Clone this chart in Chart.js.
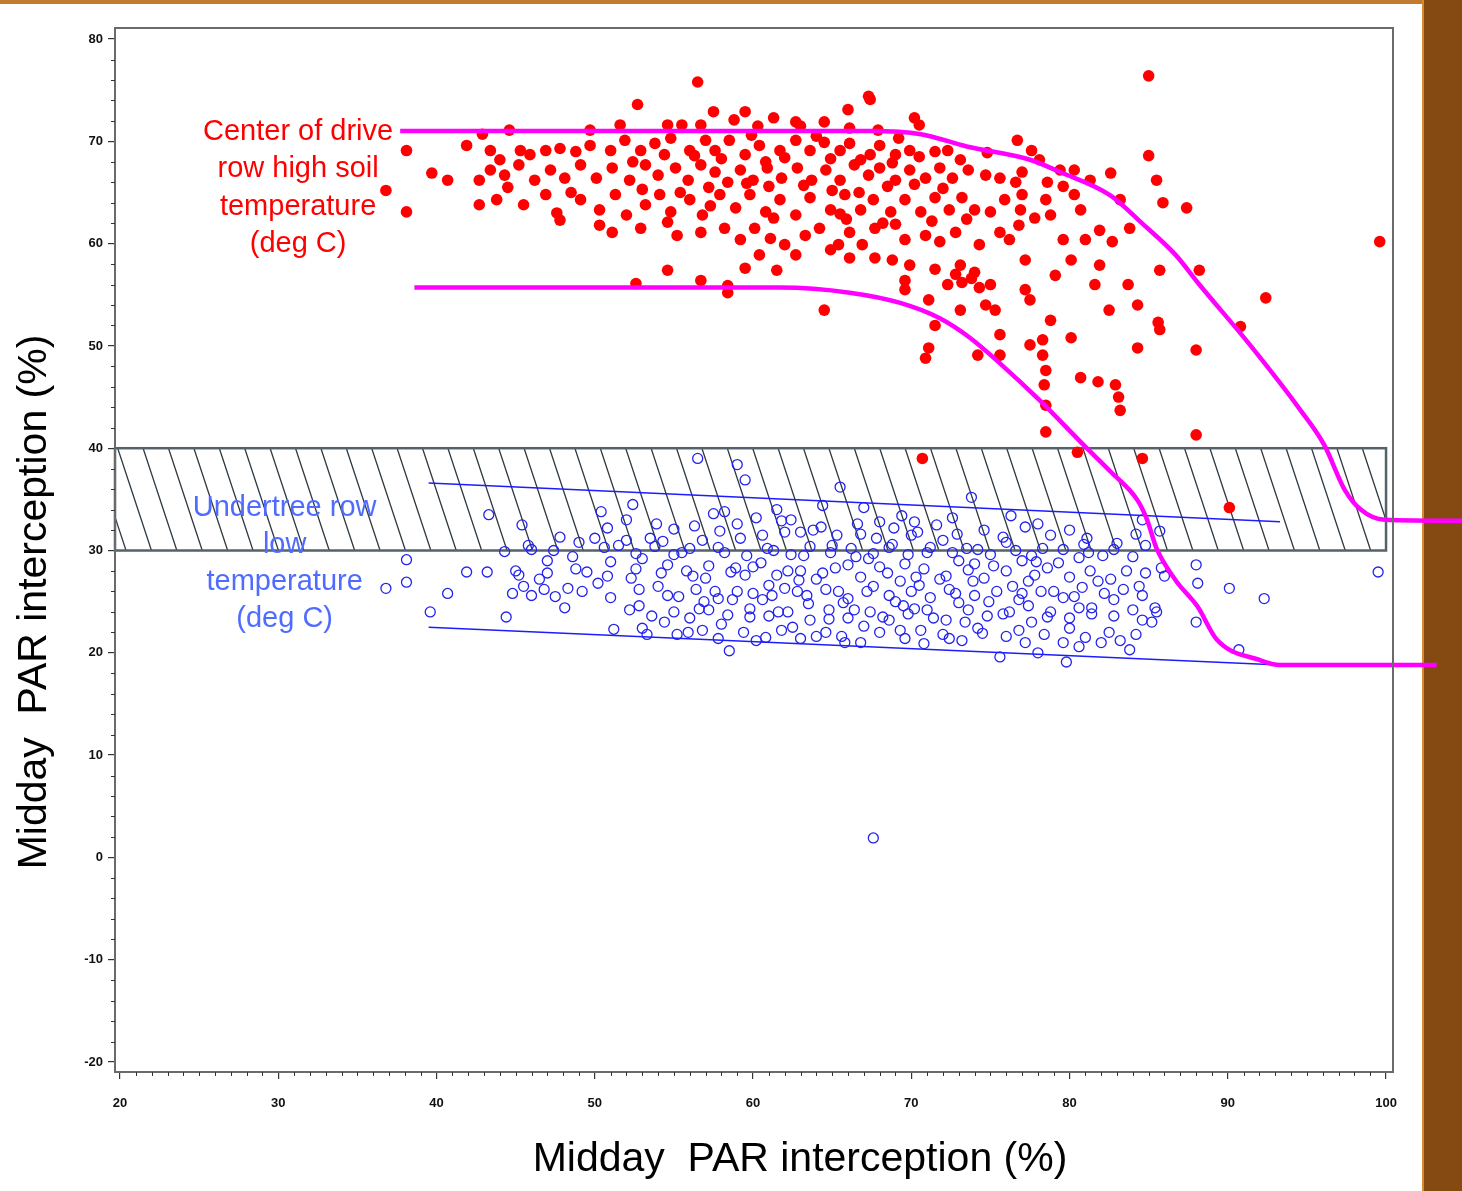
<!DOCTYPE html>
<html>
<head>
<meta charset="utf-8">
<script src="https://cdn.jsdelivr.net/npm/chart.js@4.4.0/dist/chart.umd.min.js"></script>
<style>
  body { margin: 0; background: #fff; }
  #wrap { position: relative; width: 1462px; height: 1191px; overflow: hidden; }
  #topline { position: absolute; left: 0; top: 0; width: 1422px; height: 4px; background: #c27a2e; }
  #brown { position: absolute; left: 1422px; top: 0; width: 40px; height: 1191px; background: #844a12; border-left: 2px solid #d88a30; }
  #chart { position: absolute; left: 0; top: 0; }
</style>
</head>
<body>
<div id="wrap">
  <div id="topline"></div>
  <div id="brown"></div>
  <canvas id="chart" width="1462" height="1191"></canvas>
</div>
<script>
(function() {
  const xTicks = [20, 30, 40, 50, 60, 70, 80, 90, 100];
  const yTicks = [-20, -10, 0, 10, 20, 30, 40, 50, 60, 70, 80];

  // hatched band (x from axis start to 100, y 30..40)
  const bandX = [19.68, 100];
  const bandY = [30, 40];

  // center of drive row, high soil temperature (filled red dots)
  const redPoints = [
    [52.7,73.6],[56.5,75.8],[57.5,72.9],[59.5,72.9],[61.3,72.3],[62.7,71.9],[64.5,71.9],[66.0,73.1],[67.3,74.4],[67.4,74.1],
    [70.2,72.3],[70.5,71.6],[60.3,71.5],[58.8,72.1],[63.0,71.5],[42.9,70.7],[44.6,71.1],[49.7,71.1],[51.6,71.6],[54.6,71.6],
    [55.5,71.6],[56.7,71.6],[66.1,71.3],[67.9,71.1],[85.0,76.4],
    [38.1,69.1],[41.9,69.6],[43.4,69.1],[44.0,68.2],[45.3,69.1],[45.9,68.7],[46.9,69.1],[47.8,69.3],[48.8,69.0],[49.7,69.6],
    [51.0,69.1],[51.9,70.1],[52.9,69.1],[53.8,69.8],[54.4,68.7],[56.0,69.1],[57.0,70.1],[57.6,69.1],[58.5,70.1],[59.5,68.7],
    [60.4,69.6],[61.7,69.1],[62.7,70.1],[63.6,69.1],[64.5,69.9],[65.5,69.1],[66.1,69.8],[67.4,68.7],[68.0,69.6],[69.0,68.7],
    [69.9,69.1],[71.5,69.0],[72.3,69.1],[73.1,68.2],[76.7,70.1],[77.6,69.1],[78.1,68.2],[79.4,67.2],[85.0,68.6],
    [39.7,66.9],[40.7,66.2],[36.8,65.2],[42.7,66.2],[43.4,67.2],[44.3,66.7],[45.2,67.7],[46.2,66.2],[47.2,67.2],[48.1,66.4],
    [49.1,67.7],[50.1,66.4],[51.1,67.4],[52.2,66.2],[53.2,67.7],[54.0,66.7],[55.1,67.4],[55.9,66.2],[56.7,67.7],[57.6,67.0],
    [58.4,66.0],[59.2,67.2],[60.0,66.2],[60.9,67.4],[61.8,66.4],[62.8,67.4],[63.7,66.2],[64.6,67.2],[65.5,66.2],[66.4,67.7],
    [67.3,66.7],[68.0,67.4],[69.0,66.2],[69.9,67.2],[70.9,66.4],[71.8,67.4],[72.6,66.4],[73.6,67.2],[74.7,66.7],[75.6,66.4],
    [76.6,66.0],[77.0,67.0],[78.6,66.0],[80.3,67.2],[81.3,66.2],[82.6,66.9],[85.5,66.2],
    [38.1,63.1],[42.7,63.8],[43.8,64.3],[45.5,63.8],[46.9,64.8],[47.6,63.0],[49.1,64.3],[50.3,63.3],[51.3,64.8],[52.0,62.8],
    [53.2,63.8],[54.1,64.8],[54.8,63.1],[56.0,64.3],[56.8,62.8],[57.9,64.8],[58.9,63.5],[59.8,64.8],[60.8,63.1],[61.7,64.3],
    [62.7,62.8],[63.6,64.5],[64.9,63.3],[65.8,64.8],[66.8,63.3],[67.6,64.3],[68.7,63.1],[69.6,64.3],[70.6,63.1],[71.5,64.5],
    [72.4,63.3],[73.2,64.5],[74.0,63.3],[75.0,63.1],[75.9,64.3],[76.9,63.3],[78.5,64.3],[80.3,64.8],[80.7,63.3],[83.2,64.3],
    [85.9,64.0],[87.4,63.5],[78.8,62.8],[77.8,62.5],[44.5,65.5],[48.5,65.0],[53.0,65.3],[57.2,65.5],[61.0,65.6],[65.0,65.2],
    [68.5,65.6],[72.0,65.4],[58.0,68.3],[62.0,68.4],[66.8,68.2],[70.5,68.5],[74.8,68.9],[77.0,64.8],[79.6,65.6],
    [55.4,65.0],[59.6,65.9],[63.2,65.7],[66.7,65.0],[70.2,65.8],[52.4,68.0],[56.3,68.6],[60.8,68.0],[64.9,68.3],[68.8,67.9],
    [54.8,70.3],[59.9,70.6],[64.0,70.5],[69.2,70.3],[57.3,63.7],[61.3,62.5],[65.5,62.9],[69.0,61.9],
    [47.8,62.3],[50.3,61.8],[51.1,61.1],[52.9,61.5],[54.6,62.1],[55.2,60.8],[56.7,61.1],[58.2,61.5],[59.2,60.4],[60.1,61.5],
    [61.1,60.5],[62.0,59.9],[63.3,60.8],[64.2,61.5],[65.4,59.9],[66.1,61.1],[66.9,59.9],[67.7,61.5],[69.6,60.4],[70.9,60.8],
    [71.8,60.2],[72.8,61.1],[74.3,59.9],[75.6,61.1],[76.2,60.4],[79.6,60.4],[81.0,60.4],[81.9,61.3],[82.7,60.2],[83.8,61.5],
    [99.6,60.2],[65.9,62.4],[68.2,62.0],[71.3,62.2],[73.5,62.4],[76.8,61.8],
    [52.6,56.1],[54.6,57.4],[56.7,56.4],[58.4,55.2],[59.5,57.6],[61.5,57.4],[60.4,58.9],[62.7,58.9],[64.9,59.4],[66.1,58.6],
    [67.7,58.6],[68.8,58.4],[69.6,56.4],[69.9,57.9],[71.5,57.5],[72.3,56.0],[73.1,57.9],[73.2,56.2],[74.0,57.2],[74.3,55.7],
    [75.0,56.0],[77.2,58.4],[77.2,55.5],[79.1,56.9],[80.1,58.4],[81.6,56.0],[81.9,57.9],[83.7,56.0],[85.7,57.4],[88.2,57.4],
    [58.4,55.9],[72.8,57.0],[73.8,56.6],
    [64.5,53.5],[69.6,55.5],[71.1,54.5],[71.5,52.0],[73.1,53.5],[74.7,54.0],[75.3,53.5],[77.5,54.5],[78.8,52.5],[82.5,53.5],
    [84.3,54.0],[85.6,52.3],[92.4,54.7],[90.8,51.9],
    [70.9,48.8],[71.1,49.8],[74.2,49.1],[75.6,51.1],[75.6,49.1],[77.5,50.1],[78.3,50.6],[78.3,49.1],[80.1,50.8],[84.3,49.8],
    [85.7,51.6],[88.0,49.6],[78.5,47.6],[78.4,46.2],[80.7,46.9],[81.8,46.5],[82.9,46.2],[83.1,45.0],
    [78.5,44.2],[83.2,43.7],[78.5,41.6],[88.0,41.3],[80.5,39.6],[84.6,39.0],[70.7,39.0],[90.1,34.2]
  ];

  // undertree row, low temperature (open blue circles)
  const bluePoints = [
    [36.8,26.3],[38.1,29.1],[38.1,26.9],[39.6,24.0],[40.7,25.8],[41.9,27.9],[43.2,27.9],[43.3,33.5],[44.3,29.9],[44.4,23.5],
    [45.4,32.5],[45.0,28.0],[45.5,26.5],[46.0,25.6],[46.5,27.2],[46.0,30.1],[47.0,29.0],[47.8,31.3],[48.1,24.4],[48.3,26.3],
    [49.0,30.8],[49.5,27.9],[50.2,26.8],[50.0,31.2],[50.8,32.2],[51.0,28.9],[51.2,22.3],[51.5,30.5],[52.0,33.0],[52.0,31.0],
    [52.3,27.3],[52.8,24.6],[53.0,29.2],[53.3,21.8],[53.5,31.2],[54.0,26.5],[54.4,23.0],[54.6,28.6],[55.0,32.1],[55.3,25.5],
    [55.5,29.8],[55.9,22.0],[56.2,27.5],[56.5,39.0],[56.6,24.3],[56.8,31.0],[57.2,28.5],[57.5,33.6],[57.6,26.0],[58.0,22.8],
    [58.2,29.8],[58.5,20.2],[58.7,25.2],[59.0,38.4],[59.2,31.2],[59.5,36.9],[59.5,27.6],[59.8,23.5],[60.0,25.8],[60.2,33.2],
    [60.5,28.8],[60.8,21.5],[61.0,26.6],[61.3,30.0],[61.6,24.0],[62.0,31.8],[62.2,28.0],[62.5,22.5],[62.8,26.0],[63.2,29.5],
    [63.5,24.8],[63.8,32.0],[64.0,21.6],[64.4,27.8],[64.8,23.3],[65.0,30.5],[65.4,26.0],[65.5,36.2],[65.8,21.0],[66.0,28.6],
    [66.4,24.2],[66.8,31.6],[67.0,22.6],[67.3,29.2],[67.6,1.9],[67.6,26.5],[68.0,32.8],[68.2,23.5],[68.5,27.8],[68.8,30.6],
    [69.0,25.0],[69.3,22.2],[69.6,28.7],[70.0,31.5],[70.2,24.3],[70.5,26.6],[70.8,20.9],[71.0,29.8],[71.4,23.4],[71.8,27.2],
    [72.0,31.0],[72.4,21.4],[72.8,25.8],[73.0,29.0],[73.4,23.0],[73.8,35.2],[73.9,27.0],[74.2,30.1],[74.5,21.9],[74.9,25.0],
    [75.2,28.5],[75.6,19.6],[75.8,23.8],[76.0,30.8],[76.4,26.5],[76.8,22.2],[77.0,29.0],[77.4,24.6],[77.8,27.6],[78.0,20.0],
    [78.3,30.2],[78.6,23.5],[79.0,26.0],[79.3,28.8],[79.8,19.1],[80.0,22.4],[80.3,25.5],[80.6,29.3],[81.0,21.5],[81.4,23.8],
    [81.8,27.0],[82.1,29.5],[82.5,22.0],[82.8,25.2],[83.2,21.2],[83.6,28.0],[83.8,20.3],[84.0,24.2],[84.4,26.5],[84.8,30.5],
    [85.2,23.0],[85.5,24.0],[85.7,31.9],[86.0,27.5],[88.0,28.6],[88.1,26.8],[88.0,23.0],[90.1,26.3],[90.7,20.3],[92.3,25.3],
    [99.5,27.9],
    [56.3,32.4],[57.9,31.9],[59.0,32.6],[60.6,31.5],[61.8,32.9],[63.0,31.8],[64.3,32.3],[65.3,31.5],[66.6,32.6],[67.8,31.2],
    [68.9,32.2],[70.4,31.8],[71.6,32.5],[72.9,31.6],[74.6,32.0],[75.8,31.3],[77.2,32.3],[78.8,31.5],[80.0,32.0],[81.1,31.2],
    [83.0,30.7],[84.2,31.6],
    [45.8,30.5],[47.4,30.0],[48.6,29.4],[50.6,30.3],[52.6,29.7],[53.8,30.4],[55.0,29.6],[56.0,30.2],[57.8,30.3],[59.6,29.5],
    [60.9,30.2],[62.4,29.6],[63.6,30.4],[64.9,29.8],[66.2,30.2],[67.6,29.7],[68.6,30.3],[69.8,29.6],[71.2,30.3],[72.6,29.8],
    [73.5,30.2],[75.0,29.6],[76.6,30.0],[77.6,29.5],[79.6,30.1],[81.2,29.8],[82.8,30.1],[84.0,29.4],
    [45.2,27.6],[47.0,27.8],[48.8,28.2],[50.8,27.5],[52.6,28.2],[54.2,27.8],[55.8,28.0],[57.0,27.3],[58.6,27.9],[60.0,28.4],
    [61.5,27.6],[63.0,28.0],[64.0,27.2],[65.2,28.3],[66.8,27.4],[68.0,28.4],[69.3,27.0],[70.8,28.2],[72.2,27.5],[73.6,28.1],
    [74.6,27.3],[76.0,28.0],[77.4,27.0],[78.6,28.3],[80.0,27.4],[81.3,28.0],[82.6,27.2],[84.8,27.8],[85.8,28.3],
    [44.8,25.8],[46.8,26.2],[47.5,25.5],[49.2,26.0],[51.0,25.4],[52.8,26.2],[54.6,25.6],[56.4,26.2],[57.8,25.3],[59.0,26.0],
    [60.6,25.2],[62.0,26.3],[63.4,25.6],[64.6,26.2],[66.0,25.3],[67.2,26.0],[68.6,25.6],[70.0,26.0],[71.2,25.4],[72.4,26.2],
    [74.0,25.6],[75.4,26.0],[76.8,25.2],[78.2,26.0],[79.6,25.4],[80.8,26.4],[82.2,25.8],[83.4,26.2],[84.6,25.6],[85.4,24.4],
    [52.2,24.2],[53.6,23.6],[55.0,24.0],[56.0,23.4],[57.2,24.2],[58.4,23.7],[59.8,24.3],[61.0,23.6],[62.2,24.0],[63.6,23.2],
    [64.8,24.2],[66.0,23.4],[67.4,24.0],[68.6,23.2],[69.8,23.8],[71.0,24.2],[72.2,23.2],[73.6,24.2],[74.8,23.6],[76.2,24.0],
    [77.6,23.0],[78.8,24.0],[80.0,23.4],[81.4,24.4],[82.8,23.6],[84.6,23.2],
    [53.0,22.4],[55.2,21.8],[56.8,22.2],[57.8,21.4],[59.4,22.0],[60.2,21.2],[61.8,22.2],[63.0,21.4],[64.6,22.0],[65.6,21.6],
    [66.8,21.0],[68.0,22.0],[69.6,21.4],[70.6,22.2],[72.0,21.8],[73.2,21.2],[74.2,22.4],[76.0,21.6],[77.2,21.0],[78.4,21.8],
    [79.6,21.0],[80.6,20.6],[82.0,21.0],[84.2,21.8],
    [50.4,33.8],[52.4,34.5],[53.9,32.6],[58.2,33.8],[61.5,34.0],[62.4,33.0],[64.4,34.4],[67.0,34.2],[69.4,33.4],[70.2,32.8],
    [72.6,33.2],[76.3,33.4],[78.0,32.6],[84.6,33.0],
    [54.3,30.9],[58.9,28.3],[62.9,27.1],[66.5,29.4],[70.3,27.4],[74.0,28.7],[77.9,28.9],[80.9,30.6],[56.9,25.0],[61.2,25.6],
    [65.7,24.9],[69.5,24.6],[73.0,24.9],[77.0,25.8],[80.6,24.4]
  ];

  // magenta envelope curves
  const upperCurveX = [37.7, 50, 60, 67.4, 70.6, 73.5, 77.5, 79.4, 82.6, 84.5, 86.7, 88.2, 91.4, 94.6, 96.1, 97.4, 98.4, 99.9, 104.8];
  const upperCurveY = [71.0, 71.0, 71.0, 71.0, 70.7, 69.5, 68.2, 67.0, 64.7, 62.1, 58.9, 56.0, 50.1, 43.7, 40.3, 35.9, 34.0, 33.0, 32.9];
  const lowerCurveX = [38.6, 50, 61.7, 66.1, 69.3, 71.8, 73.7, 75.6, 78.1, 80.9, 82.6, 84.3, 84.9, 85.5, 86.7, 88.1, 89.3, 92.0, 93.3, 103.2];
  const lowerCurveY = [55.7, 55.7, 55.7, 55.2, 54.2, 52.7, 50.8, 48.3, 44.7, 40.3, 37.7, 34.9, 33.0, 30.2, 27.1, 24.5, 21.3, 19.3, 18.8, 18.8];

  // thin blue bounding lines
  const blueUpperX = [39.5, 93.3];
  const blueUpperY = [36.6, 32.8];
  const blueLowerX = [39.5, 93.3];
  const blueLowerY = [22.5, 18.8];

  const redLabel = ['Center of drive', 'row high soil', 'temperature', '(deg C)'];
  const blueLabel = ['Undertree row', 'low', 'temperature', '(deg C)'];
  const axisTitle = 'Midday  PAR interception (%)';

  const toXY = (xs, ys) => xs.map((v, i) => ({ x: v, y: ys[i] }));
  const fontFam = '"Liberation Sans", Arial, sans-serif';

  const decor = {
    id: 'decor',
    beforeDatasetsDraw(chart) {
      const { ctx, scales: { x, y } } = chart;
      const l = x.getPixelForValue(bandX[0]), r = x.getPixelForValue(bandX[1]);
      const t = y.getPixelForValue(bandY[1]), b = y.getPixelForValue(bandY[0]);
      ctx.save();
      ctx.beginPath();
      ctx.rect(l, t, r - l, b - t);
      ctx.clip();
      ctx.strokeStyle = '#2f3a42';
      ctx.lineWidth = 1.3;
      ctx.beginPath();
      const dx = (b - t) * 0.33;
      for (let px = 1006.7 - 25.4 * 42; px < r + 5; px += 25.4) {
        ctx.moveTo(px, t);
        ctx.lineTo(px + dx, b);
      }
      ctx.stroke();
      ctx.restore();
      ctx.save();
      ctx.strokeStyle = '#56626a';
      ctx.lineWidth = 2.5;
      ctx.strokeRect(l, t, r - l, b - t);
      ctx.restore();
    },
    afterDraw(chart) {
      const { ctx, chartArea: a, scales: { x, y } } = chart;
      ctx.save();
      // plot frame
      ctx.strokeStyle = '#6a6a6a';
      ctx.lineWidth = 2;
      ctx.strokeRect(a.left, a.top, a.right - a.left, a.bottom - a.top);
      // minor ticks
      ctx.strokeStyle = '#333';
      ctx.lineWidth = 1;
      ctx.beginPath();
      for (let v = xTicks[0]; v <= xTicks[xTicks.length - 1]; v++) {
        if (v % 10 === 0) continue;
        const px = Math.round(x.getPixelForValue(v)) + 0.5;
        ctx.moveTo(px, a.bottom);
        ctx.lineTo(px, a.bottom + 4);
      }
      for (let v = yTicks[0]; v <= yTicks[yTicks.length - 1]; v += 2) {
        if (v % 10 === 0) continue;
        const py = Math.round(y.getPixelForValue(v)) + 0.5;
        ctx.moveTo(a.left, py);
        ctx.lineTo(a.left - 4, py);
      }
      ctx.stroke();

      // axis titles
      ctx.fillStyle = '#000';
      ctx.font = '41px ' + fontFam;
      ctx.textAlign = 'center';
      ctx.textBaseline = 'middle';
      ctx.fillText(axisTitle, 800, 1160);
      ctx.save();
      ctx.translate(35, 602);
      ctx.rotate(-Math.PI / 2);
      ctx.fillText(axisTitle, 0, 0);
      ctx.restore();

      // annotations
      ctx.font = '29px ' + fontFam;
      ctx.fillStyle = '#ff0000';
      const rx = x.getPixelForValue(31.25);
      redLabel.forEach((s, i) => ctx.fillText(s, rx, y.getPixelForValue(70.9) + i * 37.3));
      ctx.fillStyle = '#4f6cff';
      const bx = x.getPixelForValue(30.4);
      blueLabel.forEach((s, i) => ctx.fillText(s, bx, y.getPixelForValue(34.2) + i * 37.3));
      ctx.restore();
    }
  };

  const tickFont = { family: fontFam, size: 13, weight: 'bold' };

  new Chart(document.getElementById('chart'), {
    type: 'scatter',
    data: {
      datasets: [
        {
          type: 'line', label: 'upper curve', data: toXY(upperCurveX, upperCurveY),
          borderColor: '#ff00ff', borderWidth: 4.5, pointRadius: 0, fill: false,
          cubicInterpolationMode: 'monotone', clip: false, order: 0
        },
        {
          type: 'line', label: 'lower curve', data: toXY(lowerCurveX, lowerCurveY),
          borderColor: '#ff00ff', borderWidth: 4.5, pointRadius: 0, fill: false,
          cubicInterpolationMode: 'monotone', clip: false, order: 0
        },
        {
          type: 'line', label: 'blue upper', data: toXY(blueUpperX, blueUpperY),
          borderColor: '#1c1cff', borderWidth: 1.5, pointRadius: 0, fill: false, order: 1
        },
        {
          type: 'line', label: 'blue lower', data: toXY(blueLowerX, blueLowerY),
          borderColor: '#1c1cff', borderWidth: 1.5, pointRadius: 0, fill: false, order: 1
        },
        {
          label: 'high soil temperature', data: redPoints.map(p => ({ x: p[0], y: p[1] })),
          backgroundColor: '#ff0000', borderWidth: 0, pointRadius: 5.8, order: 2
        },
        {
          label: 'low temperature', data: bluePoints.map(p => ({ x: p[0], y: p[1] })),
          backgroundColor: 'rgba(0,0,0,0)', borderColor: '#2323ee', borderWidth: 1.3, pointRadius: 5, order: 3
        }
      ]
    },
    options: {
      responsive: false,
      animation: false,
      devicePixelRatio: 1,
      layout: { padding: { top: 28, right: 69, left: 0, bottom: 0 } },
      plugins: { legend: { display: false }, tooltip: { enabled: false } },
      scales: {
        x: {
          type: 'linear', min: 19.68, max: 100.44,
          afterBuildTicks: s => { s.ticks = xTicks.map(v => ({ value: v })); },
          afterFit: s => { s.height = 119; },
          grid: { drawOnChartArea: false, tickLength: 7, color: '#333', lineWidth: 1.2 },
          border: { display: true, color: '#555', width: 2 },
          ticks: { font: tickFont, color: '#111', padding: 17, maxRotation: 0 }
        },
        y: {
          type: 'linear', min: -20.98, max: 81.08,
          afterBuildTicks: s => { s.ticks = yTicks.map(v => ({ value: v })); },
          afterFit: s => { s.width = 115; },
          grid: { drawOnChartArea: false, tickLength: 7, color: '#333', lineWidth: 1.2 },
          border: { display: true, color: '#555', width: 2 },
          ticks: { font: tickFont, color: '#111', padding: 5 }
        }
      }
    },
    plugins: [decor]
  });
})();
</script>
</body>
</html>
